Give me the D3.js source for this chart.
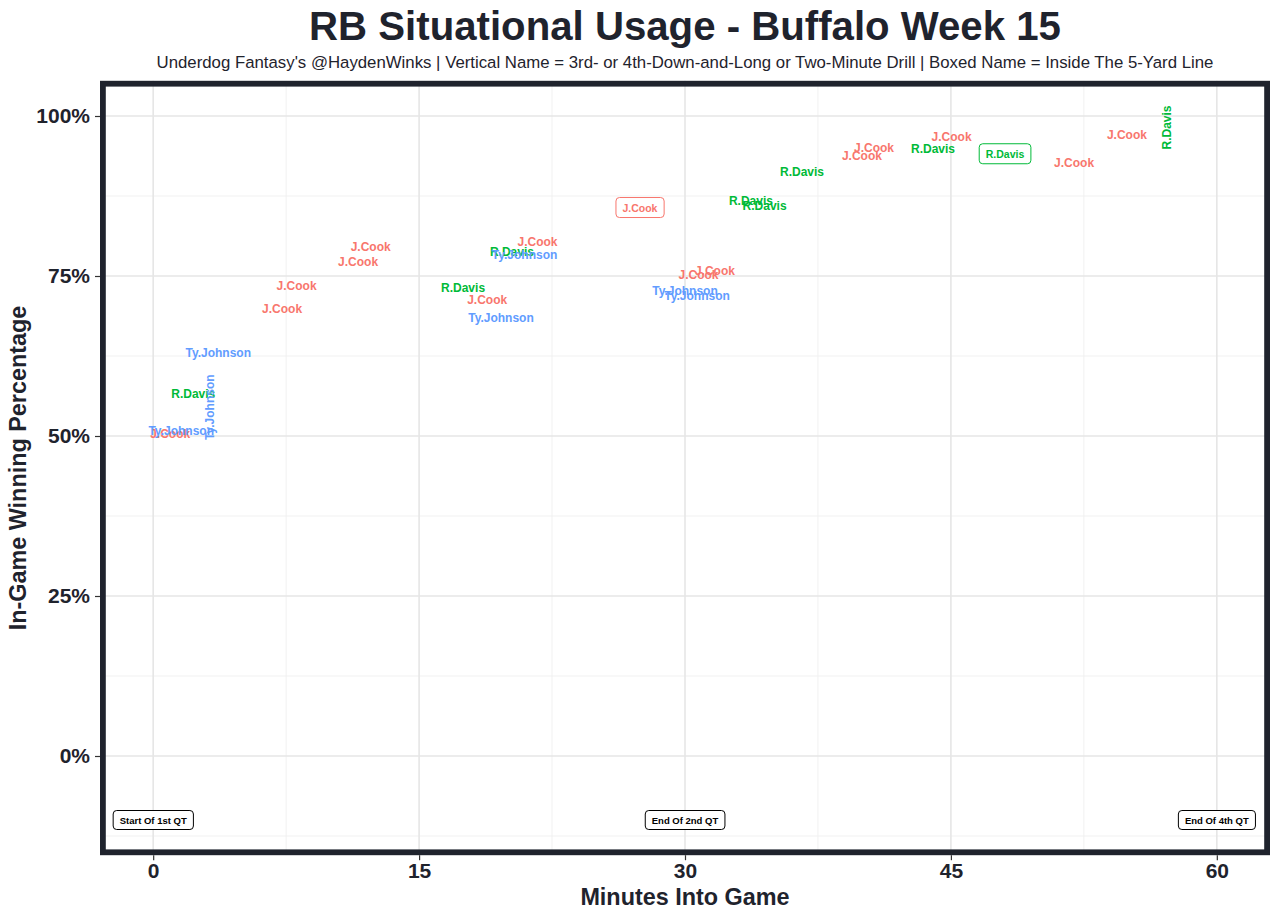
<!DOCTYPE html>
<html>
<head>
<meta charset="utf-8">
<script src="https://cdn.jsdelivr.net/npm/d3@7"></script>
<style>
  html, body { margin: 0; padding: 0; background: #ffffff; }
  svg { display: block; font-family: "Liberation Sans", Arial, Helvetica, sans-serif; }
</style>
</head>
<body>
<svg id="chart" width="1280" height="919"></svg>
<script>
// ---------------- DATA ----------------
const minutes = [0.96, 1.58, 2.26, 3.21, 3.67, 7.27, 8.09, 11.56, 12.27, 17.48, 18.84, 19.62, 20.24, 20.95, 21.68,
                 27.46, 30.0, 30.68, 30.76, 31.69, 33.72, 34.49, 36.6, 39.98, 40.66, 43.99, 45.04, 48.05, 51.95, 54.93, 57.2];
const winPct  = [50.3, 50.8, 56.6, 54.5, 63.0, 69.8, 73.5, 77.2, 79.5, 73.2, 71.2, 68.5, 78.7, 78.3, 80.3,
                 85.7, 72.7, 71.8, 75.2, 75.8, 86.7, 86.0, 91.2, 93.8, 95.0, 94.8, 96.7, 94.1, 92.6, 97.1, 98.2];
const players = ["J.Cook", "Ty.Johnson", "R.Davis", "Ty.Johnson", "Ty.Johnson", "J.Cook", "J.Cook", "J.Cook", "J.Cook",
                 "R.Davis", "J.Cook", "Ty.Johnson", "R.Davis", "Ty.Johnson", "J.Cook",
                 "J.Cook", "Ty.Johnson", "Ty.Johnson", "J.Cook", "J.Cook", "R.Davis", "R.Davis", "R.Davis",
                 "J.Cook", "J.Cook", "R.Davis", "J.Cook", "R.Davis", "J.Cook", "J.Cook", "R.Davis"];
// n = normal, v = vertical (3rd/4th-and-long or two-minute drill), b = boxed (inside the 5)
const playType = ["n", "n", "n", "v", "n", "n", "n", "n", "n", "n", "n", "n", "n", "n", "n",
                  "b", "n", "n", "n", "n", "n", "n", "n", "n", "n", "n", "n", "b", "n", "n", "v"];

const playerNames = ["J.Cook", "R.Davis", "Ty.Johnson"];
const quarterMinutes = [0, 30, 60];
const quarterLabels = ["Start Of 1st QT", "End Of 2nd QT", "End Of 4th QT"];
const quarterPct = -10;

const xTicks = [0, 15, 30, 45, 60];
const xMinor = [7.5, 22.5, 37.5, 52.5];
const yTicks = [0, 25, 50, 75, 100];
const yMinor = [-12.5, 12.5, 37.5, 62.5, 87.5];

const titleText = "RB Situational Usage - Buffalo Week 15";
const subtitleText = "Underdog Fantasy's @HaydenWinks | Vertical Name = 3rd- or 4th-Down-and-Long or Two-Minute Drill | Boxed Name = Inside The 5-Yard Line";
const xTitle = "Minutes Into Game";
const yTitle = "In-Game Winning Percentage";

// ---------------- CHART ----------------
const ink = "#1f232d";
const svg = d3.select("#chart");
const L = 100, R = 1270, T = 80.8, B = 855.2;

const x = d3.scaleLinear().domain([-3, 63]).range([L, R]);
const y = d3.scaleLinear().domain([-15.5, 105.5]).range([B, T]);
const color = d3.scaleOrdinal().domain(playerNames).range(["#F8766D", "#00BA38", "#619CFF"]);

// panel background
svg.append("rect").attr("x", L).attr("y", T).attr("width", R - L).attr("height", B - T).attr("fill", "#ffffff");

// grid
const grid = svg.append("g");
grid.selectAll(".xminor").data(xMinor).join("line")
  .attr("x1", d => x(d)).attr("x2", d => x(d)).attr("y1", T).attr("y2", B)
  .attr("stroke", "#efefef").attr("stroke-width", 0.9);
grid.selectAll(".yminor").data(yMinor).join("line")
  .attr("x1", L).attr("x2", R).attr("y1", d => y(d)).attr("y2", d => y(d))
  .attr("stroke", "#efefef").attr("stroke-width", 0.9);
grid.selectAll(".xmajor").data(xTicks).join("line")
  .attr("x1", d => x(d)).attr("x2", d => x(d)).attr("y1", T).attr("y2", B)
  .attr("stroke", "#e6e6e6").attr("stroke-width", 1.6);
grid.selectAll(".ymajor").data(yTicks).join("line")
  .attr("x1", L).attr("x2", R).attr("y1", d => y(d)).attr("y2", d => y(d))
  .attr("stroke", "#e6e6e6").attr("stroke-width", 1.6);

// quarter markers
const qg = svg.append("g");
quarterMinutes.forEach((m, i) => {
  const g = qg.append("g");
  const t = g.append("text")
    .attr("x", x(m)).attr("y", y(quarterPct))
    .attr("text-anchor", "middle").attr("dominant-baseline", "central")
    .attr("font-size", 9.5).attr("font-weight", "bold").attr("fill", "#000")
    .text(quarterLabels[i]);
  const bb = t.node().getBBox();
  g.insert("rect", "text")
    .attr("x", bb.x - 6.5).attr("y", y(quarterPct) - 9.5)
    .attr("width", bb.width + 13).attr("height", 19)
    .attr("rx", 3.5).attr("ry", 3.5)
    .attr("fill", "#fff").attr("stroke", "#000").attr("stroke-width", 1);
});

// player labels
const data = minutes.map((m, i) => ({ m, p: winPct[i], name: players[i], type: playType[i] }));
const lg = svg.append("g");
data.forEach(d => {
  const cx = x(d.m), cy = y(d.p);
  const g = lg.append("g");
  if (d.type === "v") {
    g.append("text")
      .attr("transform", `translate(${cx},${cy}) rotate(-90)`)
      .attr("text-anchor", "middle").attr("dominant-baseline", "central")
      .attr("font-size", 12).attr("font-weight", "bold").attr("fill", color(d.name))
      .text(d.name);
  } else if (d.type === "b") {
    const t = g.append("text")
      .attr("x", cx).attr("y", cy)
      .attr("text-anchor", "middle").attr("dominant-baseline", "central")
      .attr("font-size", 10.5).attr("font-weight", "bold").attr("fill", color(d.name))
      .text(d.name);
    const bb = t.node().getBBox();
    g.insert("rect", "text")
      .attr("x", bb.x - 6.5).attr("y", cy - 10)
      .attr("width", bb.width + 13).attr("height", 20)
      .attr("rx", 3.5).attr("ry", 3.5)
      .attr("fill", "#fff").attr("stroke", color(d.name)).attr("stroke-width", 1);
  } else {
    g.append("text")
      .attr("x", cx).attr("y", cy)
      .attr("text-anchor", "middle").attr("dominant-baseline", "central")
      .attr("font-size", 12).attr("font-weight", "bold").attr("fill", color(d.name))
      .text(d.name);
  }
});

// panel border (drawn inside the panel)
svg.append("rect").attr("x", L + 2.9).attr("y", T + 2.9)
  .attr("width", R - L - 5.8).attr("height", B - T - 5.8)
  .attr("fill", "none").attr("stroke", ink).attr("stroke-width", 5.8);

// axes
const xAxis = svg.append("g").attr("transform", `translate(0,${B})`)
  .call(d3.axisBottom(x).tickValues(xTicks).tickSize(5).tickPadding(3).tickFormat(d3.format("d")));
const yAxis = svg.append("g").attr("transform", `translate(${L},0)`)
  .call(d3.axisLeft(y).tickValues(yTicks).tickSize(5).tickPadding(5).tickFormat(d => d + "%"));
[xAxis, yAxis].forEach(a => {
  a.select(".domain").remove();
  a.selectAll(".tick line").attr("stroke", "#333").attr("stroke-width", 1.2);
  a.selectAll(".tick text").attr("fill", ink).attr("font-size", 21).attr("font-weight", "bold")
    .attr("font-family", '"Liberation Sans", Arial, sans-serif');
});

// titles
svg.append("text").attr("x", (L + R) / 2).attr("y", 40).attr("text-anchor", "middle")
  .attr("font-size", 40.2).attr("font-weight", "bold").attr("fill", ink).text(titleText);
svg.append("text").attr("x", (L + R) / 2).attr("y", 68).attr("text-anchor", "middle")
  .attr("font-size", 16.8).attr("fill", ink).text(subtitleText);
svg.append("text").attr("x", (L + R) / 2).attr("y", 905).attr("text-anchor", "middle")
  .attr("font-size", 23.4).attr("font-weight", "bold").attr("fill", ink).text(xTitle);
svg.append("text").attr("transform", `translate(26,${(T + B) / 2}) rotate(-90)`).attr("text-anchor", "middle")
  .attr("font-size", 23.4).attr("font-weight", "bold").attr("fill", ink).text(yTitle);
</script>
</body>
</html>
